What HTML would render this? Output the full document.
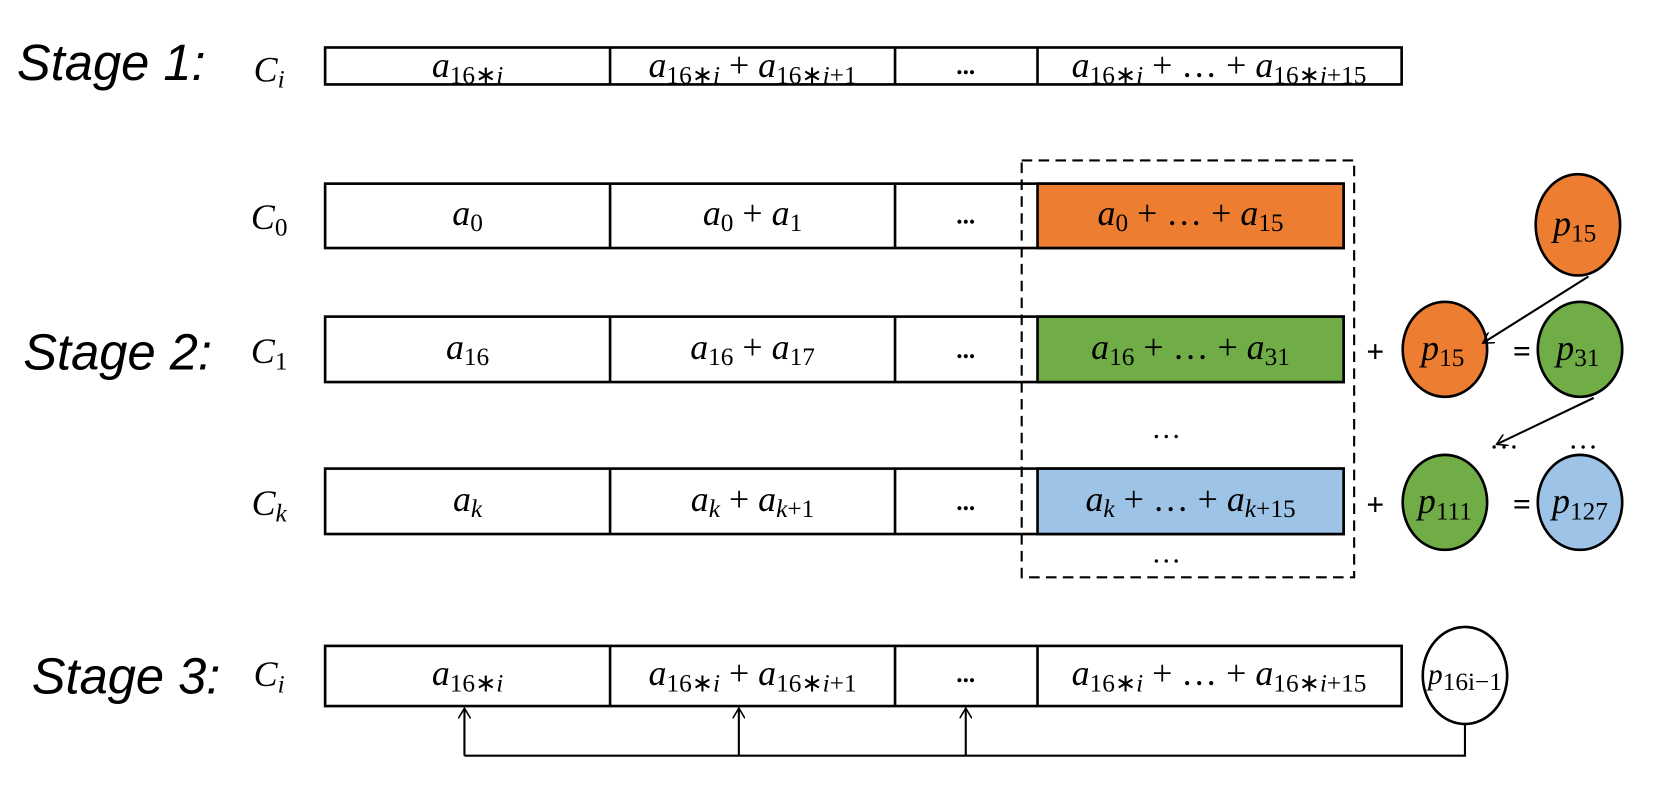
<!DOCTYPE html>
<html><head><meta charset="utf-8"><style>
body{margin:0;background:#fff}
svg text{font-family:"Liberation Serif",serif}
.m{font-style:italic;font-size:34px}
.s{font-size:24px}
.st{font-family:"Liberation Sans",sans-serif;font-style:italic;font-size:48px}
</style></head><body>
<svg width="1655" height="781" viewBox="0 0 1568 740" xmlns="http://www.w3.org/2000/svg">
<defs><marker id="a" markerWidth="12" markerHeight="12" refX="10" refY="6" orient="auto" markerUnits="userSpaceOnUse"><path d="M0,0 L10,6 L0,12" fill="none" stroke="#000" stroke-width="1.5"/></marker></defs>
<g stroke="#000" stroke-width="2.5" fill="none">
<rect x="308" y="45" width="1020" height="35" fill="#fff"/>
<line x1="578" y1="45" x2="578" y2="80"/><line x1="848" y1="45" x2="848" y2="80"/><line x1="983" y1="45" x2="983" y2="80"/>
<rect x="308" y="174" width="965" height="61"/><line x1="578" y1="174" x2="578" y2="235"/><line x1="848" y1="174" x2="848" y2="235"/>
<rect x="983" y="174" width="290" height="61" fill="#ED7D31"/>
<rect x="308" y="300" width="965" height="62"/><line x1="578" y1="300" x2="578" y2="362"/><line x1="848" y1="300" x2="848" y2="362"/>
<rect x="983" y="300" width="290" height="62" fill="#70AD47"/>
<rect x="308" y="444" width="965" height="62"/><line x1="578" y1="444" x2="578" y2="506"/><line x1="848" y1="444" x2="848" y2="506"/>
<rect x="983" y="444" width="290" height="62" fill="#9DC3E6"/>
<rect x="308" y="612" width="1020" height="57"/>
<line x1="578" y1="612" x2="578" y2="669"/><line x1="848" y1="612" x2="848" y2="669"/><line x1="983" y1="612" x2="983" y2="669"/>
<rect x="968" y="152" width="315" height="395" stroke-dasharray="10,6" stroke-width="2"/>
<ellipse cx="1495" cy="213" rx="40" ry="48" fill="#ED7D31"/>
<ellipse cx="1369" cy="331" rx="40" ry="45" fill="#ED7D31"/>
<ellipse cx="1497" cy="331" rx="40" ry="45" fill="#70AD47"/>
<ellipse cx="1369" cy="476" rx="40" ry="45" fill="#70AD47"/>
<ellipse cx="1497" cy="476" rx="40" ry="45" fill="#9DC3E6"/>
<ellipse cx="1388" cy="640" rx="40" ry="46" fill="#fff"/>
<g stroke-width="2"><line x1="1505" y1="262" x2="1405" y2="325" marker-end="url(#a)"/>
<line x1="1510" y1="377" x2="1418" y2="421" marker-end="url(#a)"/>
<polyline points="1388,686 1388,716 440,716"/>
<line x1="440" y1="716" x2="440" y2="671" marker-end="url(#a)"/>
<line x1="700" y1="716" x2="700" y2="671" marker-end="url(#a)"/>
<line x1="915" y1="716" x2="915" y2="671" marker-end="url(#a)"/></g>
</g>
<text class="st" x="16" y="76">Stage 1:</text>
<text class="st" x="22" y="350">Stage 2:</text>
<text class="st" x="30" y="657">Stage 3:</text>
<g text-anchor="middle" class="m" font-size="36">
<text x="255" y="77">C<tspan class="s" dy="6">i</tspan></text>
<text x="255" y="217">C<tspan class="s" dy="6" font-style="normal">0</tspan></text>
<text x="255" y="344">C<tspan class="s" dy="6" font-style="normal">1</tspan></text>
<text x="255" y="488">C<tspan class="s" dy="6">k</tspan></text>
<text x="255" y="650">C<tspan class="s" dy="6">i</tspan></text>
</g>
<g text-anchor="middle" class="m">
<text x="443" y="73">a<tspan class="s" dy="6" font-style="normal">16∗</tspan><tspan class="s">i</tspan></text>
<text x="713" y="73">a<tspan class="s" dy="6" font-style="normal">16∗</tspan><tspan class="s">i</tspan><tspan dy="-6" font-style="normal"> + </tspan>a<tspan class="s" dy="6" font-style="normal">16∗</tspan><tspan class="s">i</tspan><tspan class="s" font-style="normal">+1</tspan></text>
<text x="915" y="70" font-style="normal" font-weight="bold" font-size="24">...</text>
<text x="1155" y="73">a<tspan class="s" dy="6" font-style="normal">16∗</tspan><tspan class="s">i</tspan><tspan dy="-6" font-style="normal"> + … + </tspan>a<tspan class="s" dy="6" font-style="normal">16∗</tspan><tspan class="s">i</tspan><tspan class="s" font-style="normal">+15</tspan></text>

<text x="443" y="213">a<tspan class="s" dy="6" font-style="normal">0</tspan></text>
<text x="713" y="213">a<tspan class="s" dy="6" font-style="normal">0</tspan><tspan dy="-6" font-style="normal"> + </tspan>a<tspan class="s" dy="6" font-style="normal">1</tspan></text>
<text x="915" y="212" font-style="normal" font-weight="bold" font-size="24">...</text>
<text x="1128" y="213">a<tspan class="s" dy="6" font-style="normal">0</tspan><tspan dy="-6" font-style="normal"> + … + </tspan>a<tspan class="s" dy="6" font-style="normal">15</tspan></text>

<text x="443" y="340">a<tspan class="s" dy="6" font-style="normal">16</tspan></text>
<text x="713" y="340">a<tspan class="s" dy="6" font-style="normal">16</tspan><tspan dy="-6" font-style="normal"> + </tspan>a<tspan class="s" dy="6" font-style="normal">17</tspan></text>
<text x="915" y="339" font-style="normal" font-weight="bold" font-size="24">...</text>
<text x="1128" y="340">a<tspan class="s" dy="6" font-style="normal">16</tspan><tspan dy="-6" font-style="normal"> + … + </tspan>a<tspan class="s" dy="6" font-style="normal">31</tspan></text>

<text x="443" y="484">a<tspan class="s" dy="6">k</tspan></text>
<text x="713" y="484">a<tspan class="s" dy="6">k</tspan><tspan dy="-6" font-style="normal"> + </tspan>a<tspan class="s" dy="6">k</tspan><tspan class="s" font-style="normal">+1</tspan></text>
<text x="915" y="483" font-style="normal" font-weight="bold" font-size="24">...</text>
<text x="1128" y="484">a<tspan class="s" dy="6">k</tspan><tspan dy="-6" font-style="normal"> + … + </tspan>a<tspan class="s" dy="6">k</tspan><tspan class="s" font-style="normal">+15</tspan></text>

<text x="443" y="649">a<tspan class="s" dy="6" font-style="normal">16∗</tspan><tspan class="s">i</tspan></text>
<text x="713" y="649">a<tspan class="s" dy="6" font-style="normal">16∗</tspan><tspan class="s">i</tspan><tspan dy="-6" font-style="normal"> + </tspan>a<tspan class="s" dy="6" font-style="normal">16∗</tspan><tspan class="s">i</tspan><tspan class="s" font-style="normal">+1</tspan></text>
<text x="915" y="646" font-style="normal" font-weight="bold" font-size="24">...</text>
<text x="1155" y="649">a<tspan class="s" dy="6" font-style="normal">16∗</tspan><tspan class="s">i</tspan><tspan dy="-6" font-style="normal"> + … + </tspan>a<tspan class="s" dy="6" font-style="normal">16∗</tspan><tspan class="s">i</tspan><tspan class="s" font-style="normal">+15</tspan></text>

<text x="1492" y="223">p<tspan class="s" dy="6" font-style="normal">15</tspan></text>
<text x="1367" y="341">p<tspan class="s" dy="6" font-style="normal">15</tspan></text>
<text x="1495" y="341">p<tspan class="s" dy="6" font-style="normal">31</tspan></text>
<text x="1369" y="486">p<tspan class="s" dy="6" font-style="normal">111</tspan></text>
<text x="1497" y="486">p<tspan class="s" dy="6" font-style="normal">127</tspan></text>
<text x="1388" y="648" font-size="28">p<tspan class="s" dy="6" font-style="normal" font-size="21">16i−1</tspan></text>
</g>
<g font-family="Liberation Sans,sans-serif" font-weight="bold" font-size="30" text-anchor="middle">
<text x="1303" y="343">+</text><text x="1303" y="488">+</text>
<text x="1442" y="343">=</text><text x="1442" y="488">=</text>
</g>
<g font-size="28" text-anchor="middle" font-family="Liberation Serif,serif">
<text x="1105" y="415">…</text><text x="1105" y="533">…</text>
<text x="1425" y="425">…</text><text x="1500" y="425">…</text>
</g>
</svg>
</body></html>
